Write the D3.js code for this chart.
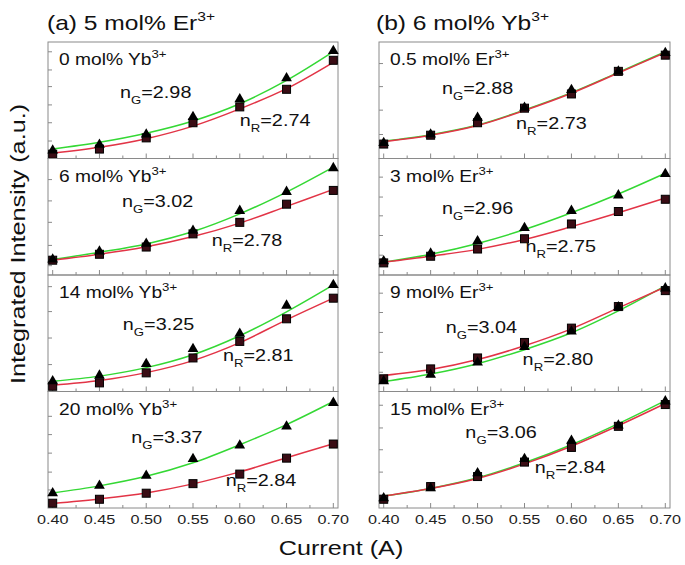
<!DOCTYPE html>
<html><head><meta charset="utf-8">
<script src="https://cdn.jsdelivr.net/npm/d3@7/dist/d3.min.js"></script>
<style>body{margin:0;background:#fff}svg{display:block;font-family:Arial,"Liberation Sans",sans-serif}</style>
</head><body><svg id="c" width="685" height="565"></svg>
<script>
// ---------- data ----------
const currents = [0.40, 0.45, 0.50, 0.55, 0.60, 0.65, 0.70];
const xTickLabels = ["0.40","0.45","0.50","0.55","0.60","0.65","0.70"];
const columnTitles = [["(a) 5 mol% Er","3+"],["(b) 6 mol% Yb","3+"]];
// panels ordered: left column top->bottom, then right column top->bottom
const panelLabels = [["0 mol% Yb","3+"],["6 mol% Yb","3+"],["14 mol% Yb","3+"],["20 mol% Yb","3+"],
                     ["0.5 mol% Er","3+"],["3 mol% Er","3+"],["9 mol% Er","3+"],["15 mol% Er","3+"]];
const nG = ["2.98","3.02","3.25","3.37","2.88","2.96","3.04","3.06"];
const nR = ["2.74","2.78","2.81","2.84","2.73","2.75","2.80","2.84"];
// green emission (triangles), integrated intensity (a.u.)
const greenPts = [
  [7.0,11.9,20.6,35.7,51.0,69.0,92.4],
  [13.3,20.3,26.9,38.1,55.1,71.4,91.8],
  [8.8,13.7,23.7,36.5,49.6,73.8,91.5],
  [12.7,19.2,27.8,42.2,53.7,70.1,90.3],
  [13.3,20.6,35.0,43.7,58.9,74.8,90.7],
  [11.9,18.4,29.1,40.4,55.1,68.4,86.7],
  [8.8,14.5,25.0,38.2,51.5,72.4,88.6],
  [8.4,17.0,29.9,42.2,57.8,70.9,91.6]];
// red emission (squares)
const redPts = [
  [3.7,8.1,17.7,30.7,44.3,59.4,84.3],
  [12.7,17.8,24.0,35.3,45.2,60.8,72.6],
  [4.5,7.4,16.0,28.8,43.0,62.4,80.1],
  [4.1,7.5,12.7,20.9,29.1,42.8,54.9],
  [12.4,20.0,30.7,43.2,55.4,74.8,88.7],
  [10.4,16.1,22.3,31.1,43.8,54.5,65.0],
  [10.9,19.4,28.8,42.1,54.4,72.9,86.6],
  [7.5,18.4,27.0,39.4,52.0,70.1,88.8]];
// fitted curves read at the same currents
const greenFit = [
  [8.1,13.9,21.7,32.2,47.0,67.0,91.7],
  [13.3,19.5,26.7,37.3,52.5,71.2,92.6],
  [8.8,13.2,20.5,31.6,47.9,68.4,91.5],
  [12.9,19.0,27.2,38.8,54.3,71.6,91.4],
  [14.8,20.4,28.7,41.7,56.5,73.9,91.6],
  [11.0,17.8,27.1,39.0,53.4,69.5,87.3],
  [8.5,15.0,23.9,35.9,50.4,69.2,90.6],
  [10.3,16.8,25.9,38.8,54.3,72.4,92.2]];
const redFit = [
  [4.6,9.6,17.0,27.8,42.6,60.0,82.6],
  [12.7,17.8,24.2,33.0,44.5,58.9,73.5],
  [5.4,9.4,16.2,26.5,41.9,61.5,80.1],
  [3.9,7.8,12.9,20.7,31.0,43.1,55.2],
  [14.5,20.0,28.3,41.2,56.0,73.4,91.0],
  [11.0,16.1,22.0,30.5,41.5,53.4,66.1],
  [13.7,18.8,27.4,39.3,53.8,71.8,89.7],
  [10.3,16.8,25.4,37.9,53.0,70.7,89.7]];
// annotation anchors in data units [current, intensity]
const nGPos = [[0.472,52],[0.474,58],[0.475,53],[0.484,56],[0.462,55],[0.462,52],[0.466,50],[0.487,60]];
const nRPos = [[0.600,28],[0.570,25],[0.582,26],[0.585,18.5],[0.541,25],[0.551,20],[0.548,23],[0.561,30]];
// y tick positions (no labels) per panel
const yTicks = [
  [91.6,76,61.7,46,30.7,15],
  [81.9,63.6,45.2,25.4,8],
  [90,68.6,45.9,23.1],
  [78.7,63,47.1,30.8,15.5],
  [81.5,61.7,41.5,20.6],
  [84,66.9,50.8,33.9,17],
  [84.4,67.8,50.7,33.6,16.5],
  [88.2,68.7,50,30.8,11]];

// ---------- layout ----------
const svg = d3.select("#c");
const colX = [[48,338],[379,670]];
const top0 = 42, bot0 = 508, nRows = 4;
const rowH = (bot0 - top0) / nRows;
const green = "#34d834", red = "#e23446", frame = "#8a8a8a", ink = "#111";
const stretch = 1.2;
const majorX = currents;
const minorX = d3.range(0.425, 0.70, 0.05);

// text stretched along its reading direction (the original font is wide)
function stext(parent, x, y, fs, anchor, rot) {
  const g = parent.append("g")
    .attr("transform", `translate(${x},${y})` + (rot ? ` rotate(${rot})` : "") + ` scale(${stretch},1)`);
  return g.append("text").attr("font-size", fs).attr("fill", ink).attr("text-anchor", anchor || "start");
}
function sup(t, main, s, supfs, dy) {
  t.append("tspan").text(main);
  t.append("tspan").attr("font-size", supfs).attr("dy", -dy).text(s);
}

for (let p = 0; p < 8; p++) {
  const col = Math.floor(p / 4), row = p % 4;
  const [x0, x1] = colX[col];
  const yTop = top0 + row * rowH, yBot = yTop + rowH;
  const x = d3.scaleLinear().domain([0.395, 0.705]).range([x0, x1]);
  const y = d3.scaleLinear().domain([0, 100]).range([yBot, yTop]);
  const g = svg.append("g");

  g.append("rect").attr("x", x0).attr("y", yTop).attr("width", x1 - x0).attr("height", rowH)
    .attr("fill", "none").attr("stroke", frame).attr("stroke-width", 1);

  g.selectAll(".mx").data(majorX).enter().append("line")
    .attr("x1", d => x(d)).attr("x2", d => x(d)).attr("y1", yBot).attr("y2", yBot - 5)
    .attr("stroke", frame);
  g.selectAll(".nx").data(minorX).enter().append("line")
    .attr("x1", d => x(d)).attr("x2", d => x(d)).attr("y1", yBot).attr("y2", yBot - 3)
    .attr("stroke", frame);
  g.selectAll(".yt").data(yTicks[p]).enter().append("line")
    .attr("x1", x0).attr("x2", x0 + 4).attr("y1", d => y(d)).attr("y2", d => y(d))
    .attr("stroke", frame);

  const line = d3.line().x((d, i) => x(currents[i])).y(d => y(d)).curve(d3.curveCatmullRom);
  g.append("path").attr("d", line(greenFit[p])).attr("fill", "none").attr("stroke", green).attr("stroke-width", 1.5);
  g.append("path").attr("d", line(redFit[p])).attr("fill", "none").attr("stroke", red).attr("stroke-width", 1.5);

  g.selectAll(".sq").data(redPts[p]).enter().append("rect")
    .attr("x", (d, i) => x(currents[i]) - 4).attr("y", d => y(d) - 4)
    .attr("width", 8).attr("height", 8)
    .attr("fill", "#3a0c14").attr("stroke", "#000").attr("stroke-width", 1);
  const tri = d3.symbol().type(d3.symbolTriangle).size(50);
  g.selectAll(".tr").data(greenPts[p]).enter().append("path")
    .attr("d", tri).attr("transform", (d, i) => `translate(${x(currents[i])},${y(d)})`)
    .attr("fill", "#000");

  const lt = stext(g, x0 + 11, yTop + 23, 16);
  sup(lt, panelLabels[p][0], panelLabels[p][1], 11, 7);

  function nText(pos, sub, val) {
    const t = stext(g, x(pos[0]), y(pos[1]), 16.5);
    t.append("tspan").text("n");
    t.append("tspan").attr("font-size", 11).attr("dy", 6).text(sub);
    t.append("tspan").attr("dy", -6).text("=" + val);
  }
  nText(nGPos[p], "G", nG[p]);
  nText(nRPos[p], "R", nR[p]);

  if (row === 3) {
    currents.forEach((d, i) => {
      stext(g, x(d), yBot + 16, 13.5, "middle").attr("fill", "#222").text(xTickLabels[i]);
    });
  }
}

[[47, 30], [376, 30]].forEach((pos, i) => {
  const t = stext(svg, pos[0], pos[1], 20.5);
  sup(t, columnTitles[i][0], columnTitles[i][1], 13, 9);
});

stext(svg, 341, 555, 21, "middle").text("Current (A)");
stext(svg, 25, 244, 21, "middle", -90).text("Integrated Intensity (a.u.)");
</script></body></html>
